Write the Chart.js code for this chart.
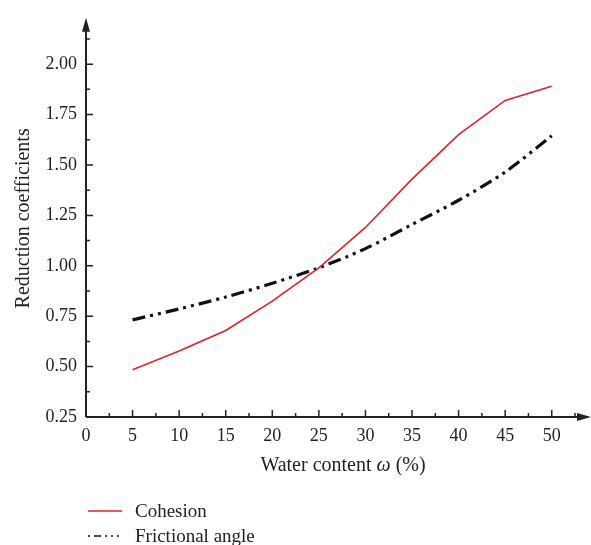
<!DOCTYPE html>
<html>
<head>
<meta charset="utf-8">
<script src="https://cdn.jsdelivr.net/npm/chart.js@4.4.1/dist/chart.umd.min.js"></script>
<style>
  html, body { margin: 0; padding: 0; background: #fff; }
  #wrap { position: relative; width: 591px; height: 545px; }
</style>
</head>
<body>
<div id="wrap"><canvas id="lineChart"></canvas></div>
<script>
const waterContent = [5, 10, 15, 20, 25, 30, 35, 40, 45, 50];
const cohesion = [0.484, 0.577, 0.679, 0.825, 0.99, 1.19, 1.43, 1.65, 1.82, 1.89];
const frictionalAngle = [0.732, 0.786, 0.845, 0.913, 0.99, 1.085, 1.205, 1.325, 1.465, 1.645];
const xTicks = [0, 5, 10, 15, 20, 25, 30, 35, 40, 45, 50];
const yTicks = [0.25, 0.5, 0.75, 1.0, 1.25, 1.5, 1.75, 2.0];
const seriesNames = ['Cohesion', 'Frictional angle'];

const FONT = '"Liberation Serif", "DejaVu Serif", serif';
const AXIS = '#222';

function points(ys) {
  return waterContent.map((x, i) => ({ x: x, y: ys[i] }));
}

// axes drawn by hand: inward ticks, minor ticks, arrow heads, x title and legend
const axisPlugin = {
  id: 'axisDeco',
  afterDraw(chart) {
    const ctx = chart.ctx;
    const xs = chart.scales.x;
    const ys = chart.scales.y;
    const { left, bottom, top, right } = chart.chartArea;
    ctx.save();
    ctx.strokeStyle = AXIS;
    ctx.fillStyle = AXIS;
    ctx.lineWidth = 2;
    ctx.beginPath();
    ctx.moveTo(left, bottom);
    ctx.lineTo(left, top + 4);
    ctx.moveTo(left, bottom);
    ctx.lineTo(right - 4, bottom);
    ctx.stroke();

    ctx.lineWidth = 1.5;
    ctx.beginPath();
    for (let v = 0; v <= 52.5; v += 2.5) {
      const px = xs.getPixelForValue(v);
      const len = v % 5 === 0 ? 7 : 4;
      ctx.moveTo(px, bottom);
      ctx.lineTo(px, bottom - len);
    }
    for (let v = 0.25; v <= 2.13; v += 0.125) {
      const py = ys.getPixelForValue(v);
      const len = Math.abs(v / 0.25 - Math.round(v / 0.25)) < 0.01 ? 7 : 4;
      ctx.moveTo(left, py);
      ctx.lineTo(left + len, py);
    }
    ctx.stroke();

    // arrows
    ctx.beginPath();
    ctx.moveTo(left, top - 2);
    ctx.lineTo(left - 4, top + 12);
    ctx.lineTo(left + 4, top + 12);
    ctx.closePath();
    ctx.fill();
    ctx.beginPath();
    ctx.moveTo(right + 2, bottom);
    ctx.lineTo(right - 12, bottom - 4);
    ctx.lineTo(right - 12, bottom + 4);
    ctx.closePath();
    ctx.fill();

    // x title with italic omega
    const parts = [
      ['Water content ', ''],
      ['ω', 'italic '],
      [' (%)', '']
    ];
    let total = 0;
    parts.forEach(p => {
      ctx.font = p[1] + '20px ' + FONT;
      total += ctx.measureText(p[0]).width;
    });
    let tx = 343 - total / 2;
    ctx.textBaseline = 'middle';
    ctx.fillStyle = '#222';
    parts.forEach(p => {
      ctx.font = p[1] + '20px ' + FONT;
      ctx.fillText(p[0], tx, 466);
      tx += ctx.measureText(p[0]).width;
    });

    // legend below the axis title
    chart.data.datasets.forEach((ds, i) => {
      const y = 511 + i * 25;
      ctx.save();
      ctx.strokeStyle = ds.borderColor;
      ctx.lineWidth = 1.4;
      ctx.setLineDash(i === 0 ? [] : [2, 4, 7, 4, 2, 4, 2, 4]);
      ctx.beginPath();
      ctx.moveTo(88, y);
      ctx.lineTo(122, y);
      ctx.stroke();
      ctx.restore();
      ctx.fillStyle = '#222';
      ctx.font = '19px ' + FONT;
      ctx.textBaseline = 'middle';
      ctx.fillText(seriesNames[i], 135, y + 1);
    });
    ctx.restore();
  }
};

const chartLine = document.getElementById('lineChart');

new Chart(chartLine, {
  type: 'line',
  data: {
    datasets: [
      {
        label: seriesNames[0],
        data: points(cohesion),
        borderColor: '#dc2329',
        borderWidth: 1.6,
        pointRadius: 0,
        tension: 0,
      },
      {
        label: seriesNames[1],
        data: points(frictionalAngle),
        borderColor: '#111',
        borderWidth: 3.2,
        borderDash: [13, 5, 3, 5, 3, 5],
        pointRadius: 0,
        tension: 0.3,
      }
    ]
  },
  options: {
    responsive: true,
    maintainAspectRatio: false,
    animation: false,
    layout: {
      padding: { left: 0, top: 12, right: 2, bottom: 58 }
    },
    scales: {
      x: {
        type: 'linear',
        min: 0,
        max: 54,
        afterBuildTicks: (axis) => { axis.ticks = xTicks.map(v => ({ value: v })); },
        afterFit: (axis) => { axis.height = 70; },
        grid: { display: false, drawTicks: false },
        border: { display: false },
        ticks: {
          color: '#222',
          padding: 8,
          font: { family: FONT, size: 18 },
          maxRotation: 0,
        },
        title: { display: false }
      },
      y: {
        min: 0.25,
        max: 2.22,
        afterBuildTicks: (axis) => { axis.ticks = yTicks.map(v => ({ value: v })); },
        afterFit: (axis) => { axis.width = 86; },
        grid: { display: false, drawTicks: false },
        border: { display: false },
        ticks: {
          color: '#222',
          padding: 9,
          font: { family: FONT, size: 18 },
          callback: (v) => v.toFixed(2),
        },
        title: {
          display: true,
          text: 'Reduction coefficients',
          color: '#222',
          font: { family: FONT, size: 20 },
          padding: { top: 12, bottom: 0 },
        }
      }
    },
    plugins: {
      legend: { display: false },
      tooltip: { enabled: false }
    }
  },
  plugins: [axisPlugin]
});
</script>
</body>
</html>
